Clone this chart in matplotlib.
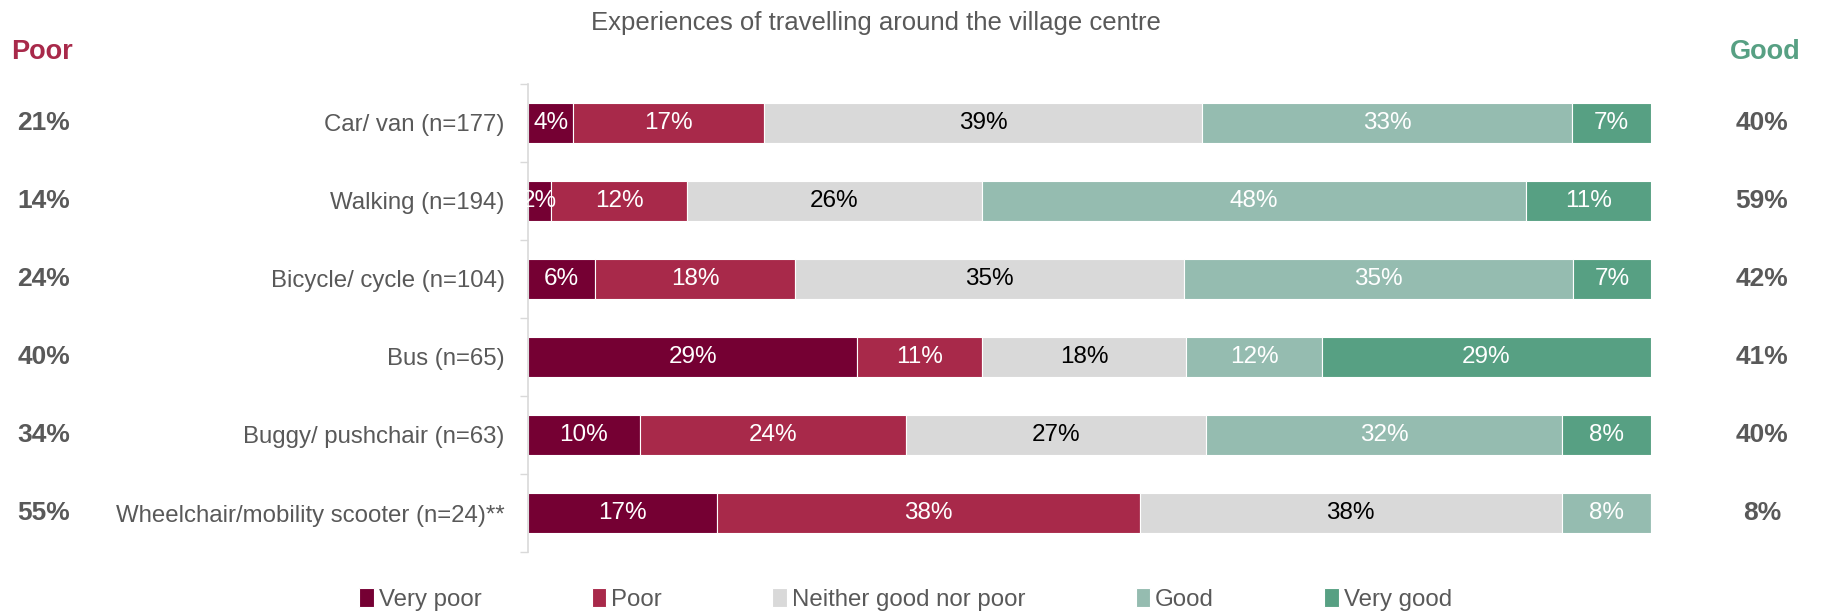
import matplotlib.pyplot as plt
import numpy as np

plt.rcParams['font.family'] = ['Liberation Sans', 'DejaVu Sans']

modos = ['Car/ van (n=177)', 'Walking (n=194)', 'Bicycle/ cycle (n=104)',
         'Bus (n=65)', 'Buggy/ pushchair (n=63)',
         'Wheelchair/mobility scooter (n=24)**']
categorias = ['Very poor', 'Poor', 'Neither good nor poor', 'Good', 'Very good']

muito_ruim = [4, 2, 6, 29, 10, 17]
ruim = [17, 12, 18, 11, 24, 38]
neutro = [39, 26, 35, 18, 27, 38]
bom = [33, 48, 35, 12, 32, 8]
muito_bom = [7, 11, 7, 29, 8, 0]

total_ruim = ['21%', '14%', '24%', '40%', '34%', '55%']
total_bom = ['40%', '59%', '42%', '41%', '40%', '8%']

cores = ['#750033', '#A8294A', '#D9D9D9', '#95BCB0', '#57A083']
cores_texto = ['white', 'white', 'black', 'white', 'white']
cinza = '#595959'

series = np.array([muito_ruim, ruim, neutro, bom, muito_bom], dtype=float)
# each row is a 100% stacked bar, so scale the rounded labels to fill it
larguras = series / series.sum(axis=0) * 100

fig = plt.figure(figsize=(18.22, 6.12), dpi=100)
ax = fig.add_axes([0.290, 0.098, 0.616, 0.765])

y = np.arange(len(modos))
esquerda = np.zeros(len(modos))
for i, cat in enumerate(categorias):
    barras = ax.barh(y, larguras[i], left=esquerda, height=0.52,
                     color=cores[i], edgecolor='white', linewidth=0.8, label=cat)
    for j, b in enumerate(barras):
        v = series[i][j]
        if v > 0:
            ax.text(esquerda[j] + larguras[i][j] / 2, y[j], f'{int(v)}%',
                    ha='center', va='center', fontsize=17.5, color=cores_texto[i])
    esquerda += larguras[i]

ax.set_xlim(0, 100)
ax.set_ylim(len(modos) - 0.5, -0.5)
ax.set_xticks([])
ax.set_yticks(y)
ax.set_yticklabels(modos, fontsize=17.3, color=cinza)
ax.tick_params(axis='y', which='major', length=0, pad=17)
ax.set_yticks(np.arange(-0.5, len(modos)), minor=True)
ax.tick_params(axis='y', which='minor', length=6, color='#D9D9D9', width=1)
for lado in ['top', 'right', 'bottom']:
    ax.spines[lado].set_visible(False)
ax.spines['left'].set_color('#D9D9D9')
ax.spines['left'].set_linewidth(1.2)

fig.text(0.481, 0.962, 'Experiences of travelling around the village centre',
         ha='center', va='center', fontsize=18.5, color=cinza)

fig.text(0.023, 0.915, 'Poor', ha='center', va='center', fontsize=19.5,
         fontweight='bold', color='#A8294A')
fig.text(0.969, 0.915, 'Good', ha='center', va='center', fontsize=19.5,
         fontweight='bold', color='#57A083')

for j in range(len(modos)):
    yy = ax.transData.transform((0, y[j]))[1]
    yf = fig.transFigure.inverted().transform((0, yy))[1]
    fig.text(0.024, yf, total_ruim[j], ha='center', va='center', fontsize=19,
             fontweight='bold', color=cinza)
    fig.text(0.967, yf, total_bom[j], ha='center', va='center', fontsize=19,
             fontweight='bold', color=cinza)

fig.legend(loc='center', bbox_to_anchor=(0.497, 0.020), ncol=5, frameon=False,
           fontsize=17.3, handlelength=0.6, handleheight=0.8, handletextpad=0.2,
           columnspacing=4.6, labelcolor=cinza)

fig.savefig('out.png', dpi=100)
